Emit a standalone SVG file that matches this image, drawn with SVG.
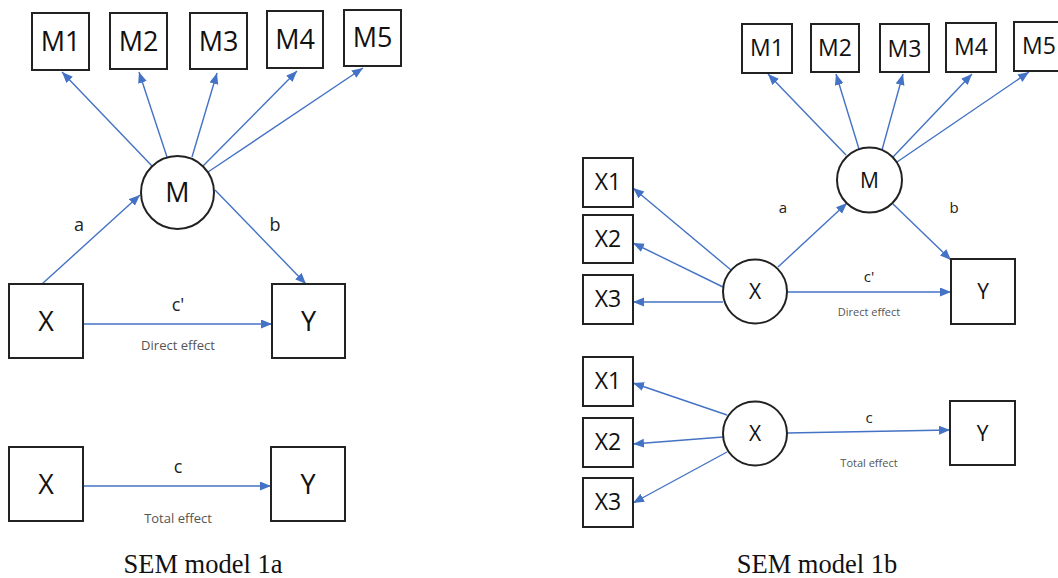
<svg xmlns="http://www.w3.org/2000/svg" width="1058" height="578" viewBox="0 0 1058 578">
<style>
.box{fill:#fff;stroke:#222;stroke-width:2}
.circ{fill:#fff;stroke:#222;stroke-width:2}
.lbl{font-family:"Open Sans","Liberation Sans",sans-serif;fill:#111;text-anchor:middle}
.big{font-size:27px}
.mid{font-size:23px}
.sm{font-size:21px}
.edge{font-family:"Open Sans","Liberation Sans",sans-serif;fill:#222;text-anchor:middle}
.e1{font-size:18px}
.e2{font-size:15px}
.note{font-family:"Open Sans","Liberation Sans",sans-serif;fill:#555;text-anchor:middle}
.n1{font-size:13px}
.n2{font-size:11px}
.cap{font-family:"Liberation Serif","DejaVu Serif",serif;font-size:26.5px;fill:#111;text-anchor:middle}
.arr{stroke:#4472C4;stroke-width:1.4;fill:none;marker-end:url(#ah)}
</style>
<defs>
<marker id="ah" markerUnits="userSpaceOnUse" markerWidth="12" markerHeight="10" refX="11" refY="4.5" orient="auto">
<path d="M0,0 L11,4.5 L0,9 z" fill="#4472C4"/>
</marker>
</defs>
<rect width="1058" height="578" fill="#fff"/>

<g id="connectors">
<!-- left top -->
<line class="arr" x1="152" y1="166" x2="62" y2="72"/>
<line class="arr" x1="167" y1="157" x2="139" y2="72"/>
<line class="arr" x1="192" y1="157" x2="217" y2="73"/>
<line class="arr" x1="203" y1="166" x2="297" y2="71"/>
<line class="arr" x1="208" y1="172" x2="363" y2="68"/>
<line class="arr" x1="42" y1="284" x2="140" y2="195"/>
<line class="arr" x1="215" y1="190" x2="306" y2="284"/>
<line class="arr" x1="83" y1="324" x2="272" y2="324"/>
<!-- left bottom -->
<line class="arr" x1="83" y1="486" x2="271" y2="486"/>
<!-- right top -->
<line class="arr" x1="846" y1="155" x2="768" y2="74"/>
<line class="arr" x1="859" y1="149" x2="836" y2="74"/>
<line class="arr" x1="882" y1="150" x2="903" y2="74"/>
<line class="arr" x1="893" y1="157" x2="972" y2="74"/>
<line class="arr" x1="897" y1="162" x2="1029" y2="72"/>
<line class="arr" x1="731" y1="270" x2="633" y2="188"/>
<line class="arr" x1="723" y1="287" x2="633" y2="243"/>
<line class="arr" x1="723" y1="302" x2="633" y2="302"/>
<line class="arr" x1="778" y1="267" x2="847" y2="203"/>
<line class="arr" x1="893" y1="204" x2="951" y2="260"/>
<line class="arr" x1="787" y1="292" x2="951" y2="292"/>
<!-- right bottom -->
<line class="arr" x1="727" y1="415" x2="633" y2="383"/>
<line class="arr" x1="723" y1="437" x2="633" y2="444"/>
<line class="arr" x1="727" y1="452" x2="633" y2="503"/>
<line class="arr" x1="787" y1="433" x2="950" y2="430"/>

<text class="edge e1" x="79" y="231">a</text>
<text class="edge e1" x="275" y="231">b</text>
<text class="edge e1" x="178" y="311">c'</text>
<text class="note n1" x="178" y="350">Direct effect</text>
<text class="edge e1" x="178" y="473">c</text>
<text class="note n1" x="178" y="523">Total effect</text>

<text class="edge e2" x="783" y="213">a</text>
<text class="edge e2" x="954" y="213">b</text>
<text class="edge e2" x="869" y="282">c'</text>
<text class="note n2" x="869" y="316">Direct effect</text>
<text class="edge e2" x="869" y="423">c</text>
<text class="note n2" x="869" y="467">Total effect</text>
</g>

<!-- Left panel nodes -->
<g id="a-M1"><rect class="box" x="32" y="13" width="57" height="57"/><text class="lbl big" x="60.5" y="51">M1</text></g>
<g id="a-M2"><rect class="box" x="110" y="13" width="57" height="56"/><text class="lbl big" x="138.5" y="51">M2</text></g>
<g id="a-M3"><rect class="box" x="190" y="13" width="57" height="56"/><text class="lbl big" x="218.5" y="51">M3</text></g>
<g id="a-M4"><rect class="box" x="267" y="11" width="56" height="57"/><text class="lbl big" x="295" y="49">M4</text></g>
<g id="a-M5"><rect class="box" x="344" y="10" width="57" height="56"/><text class="lbl big" x="372.5" y="47">M5</text></g>
<g id="a-M"><circle class="circ" cx="177.5" cy="192.5" r="36.5"/><text class="lbl big" x="177.5" y="202">M</text></g>
<g id="a-X"><rect class="box" x="9" y="284" width="74" height="74"/><text class="lbl big" x="46" y="331">X</text></g>
<g id="a-Y"><rect class="box" x="272" y="284" width="73" height="74"/><text class="lbl big" x="308.5" y="331">Y</text></g>
<g id="a-X2"><rect class="box" x="9" y="447" width="74" height="74"/><text class="lbl big" x="46" y="494">X</text></g>
<g id="a-Y2"><rect class="box" x="271" y="447" width="74" height="74"/><text class="lbl big" x="308" y="494">Y</text></g>
<text class="cap" x="203" y="573">SEM model 1a</text>

<!-- Right panel nodes -->
<g id="b-M1"><rect class="box" x="742" y="24" width="50" height="49"/><text class="lbl mid" x="767" y="56">M1</text></g>
<g id="b-M2"><rect class="box" x="811" y="24" width="48" height="48"/><text class="lbl mid" x="835" y="56">M2</text></g>
<g id="b-M3"><rect class="box" x="880" y="24" width="49" height="48"/><text class="lbl mid" x="904.5" y="57">M3</text></g>
<g id="b-M4"><rect class="box" x="946" y="23" width="50" height="49"/><text class="lbl mid" x="971" y="55">M4</text></g>
<g id="b-M5"><rect class="box" x="1014" y="22" width="50" height="49"/><text class="lbl mid" x="1039" y="54">M5</text></g>
<g id="b-M"><circle class="circ" cx="869.5" cy="180" r="32.5"/><text class="lbl sm" x="869.5" y="188">M</text></g>
<g id="b-X1"><rect class="box" x="583" y="158" width="50" height="49"/><text class="lbl mid" x="608" y="190">X1</text></g>
<g id="b-X2"><rect class="box" x="583" y="215" width="50" height="48"/><text class="lbl mid" x="608" y="247">X2</text></g>
<g id="b-X3"><rect class="box" x="583" y="275" width="50" height="49"/><text class="lbl mid" x="608" y="307">X3</text></g>
<g id="b-X"><circle class="circ" cx="755" cy="291.5" r="32"/><text class="lbl sm" x="755" y="299">X</text></g>
<g id="b-Y"><rect class="box" x="951" y="259" width="64" height="65"/><text class="lbl sm" x="983" y="299">Y</text></g>
<g id="b2-X1"><rect class="box" x="583" y="357" width="50" height="49"/><text class="lbl mid" x="608" y="389">X1</text></g>
<g id="b2-X2"><rect class="box" x="583" y="418" width="50" height="49"/><text class="lbl mid" x="608" y="450">X2</text></g>
<g id="b2-X3"><rect class="box" x="583" y="478" width="50" height="49"/><text class="lbl mid" x="608" y="510">X3</text></g>
<g id="b2-X"><circle class="circ" cx="755" cy="433.5" r="32"/><text class="lbl sm" x="755" y="441">X</text></g>
<g id="b2-Y"><rect class="box" x="950" y="401" width="65" height="64"/><text class="lbl sm" x="982.5" y="441">Y</text></g>
<text class="cap" x="817" y="573">SEM model 1b</text>
</svg>
